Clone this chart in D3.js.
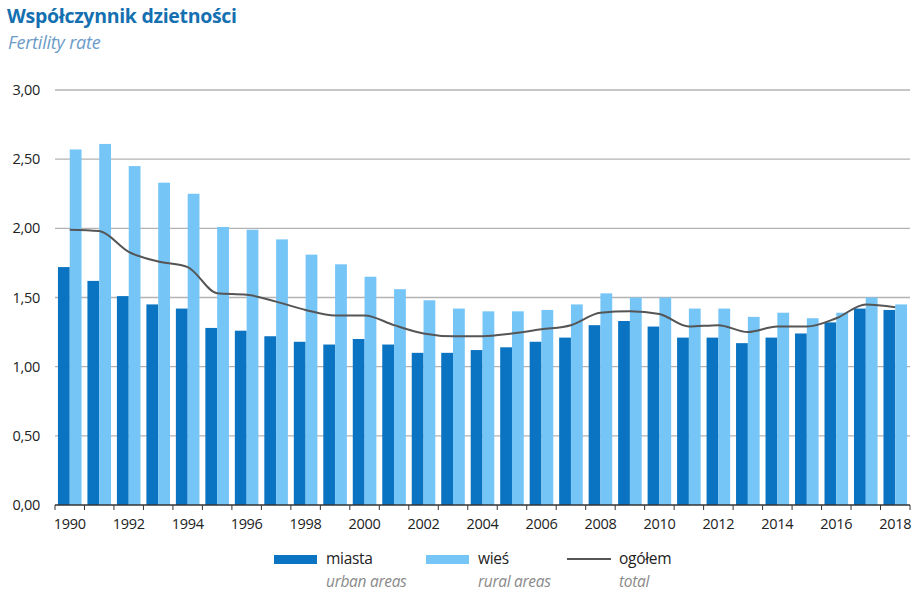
<!DOCTYPE html>
<html lang="pl">
  <head>
    <meta charset="UTF-8" />
    <script src="https://cdn.jsdelivr.net/npm/d3@7/dist/d3.min.js"></script>
    <style>
      body {
        margin: 0;
        background: #ffffff;
        font-family: "Open Sans", "Noto Sans", sans-serif;
      }
      .grid line {
        stroke: #b3b3b3;
        stroke-width: 1.3px;
      }
    </style>
    <title>Współczynnik dzietności</title>
  </head>
  <body>
    <div class="canvas"></div>
    <script>
      const years = d3.range(1990, 2019).map(String);
      const urban = [1.72, 1.62, 1.51, 1.45, 1.42, 1.28, 1.26, 1.22, 1.18, 1.16,
        1.20, 1.16, 1.10, 1.10, 1.12, 1.14, 1.18, 1.21, 1.30, 1.33,
        1.29, 1.21, 1.21, 1.17, 1.21, 1.24, 1.32, 1.42, 1.41];
      const rural = [2.57, 2.61, 2.45, 2.33, 2.25, 2.01, 1.99, 1.92, 1.81, 1.74,
        1.65, 1.56, 1.48, 1.42, 1.40, 1.40, 1.41, 1.45, 1.53, 1.50,
        1.50, 1.42, 1.42, 1.36, 1.39, 1.35, 1.39, 1.50, 1.45];
      const total = [1.99, 1.98, 1.83, 1.76, 1.72, 1.53, 1.52, 1.47, 1.41, 1.37,
        1.37, 1.30, 1.24, 1.22, 1.22, 1.24, 1.27, 1.30, 1.39, 1.40,
        1.38, 1.29, 1.30, 1.25, 1.29, 1.29, 1.35, 1.45, 1.43];
      const yTicks = [0, 0.5, 1, 1.5, 2, 2.5, 3];
      const xLabels = years.filter((d, i) => i % 2 === 0);

      const W = 922, H = 592;
      const margin = { top: 90, right: 12, bottom: 87, left: 55 };

      const svg = d3
        .select(".canvas")
        .append("svg")
        .attr("width", W)
        .attr("height", H);

      const x = d3
        .scaleBand()
        .domain(years)
        .range([margin.left, W - margin.right])
        .paddingInner(0.2)
        .paddingOuter(0.1);
      const x0 = d3
        .scaleBand()
        .domain(years)
        .range([margin.left, W - margin.right]);
      const y = d3.scaleLinear().domain([0, 3]).range([H - margin.bottom, margin.top]);

      // title
      svg.append("text")
        .attr("x", 7).attr("y", 23)
        .attr("fill", "#1470b0")
        .style("font-weight", "bold")
        .style("font-size", "19.5px")
        .style("letter-spacing", "-0.3px")
        .text("Współczynnik dzietności");
      svg.append("text")
        .attr("x", 8).attr("y", 49)
        .attr("fill", "#6b9bc9")
        .style("font-style", "italic")
        .style("font-size", "18px")
        .style("letter-spacing", "-0.2px")
        .text("Fertility rate");

      // grid + y labels
      const grid = svg.append("g").attr("class", "grid");
      grid.selectAll("line")
        .data(yTicks.filter((d) => d > 0))
        .join("line")
        .attr("x1", margin.left)
        .attr("x2", W - margin.right)
        .attr("y1", (d) => y(d))
        .attr("y2", (d) => y(d));

      svg.append("g")
        .selectAll("text")
        .data(yTicks)
        .join("text")
        .attr("x", 40)
        .attr("y", (d) => y(d) + 5)
        .attr("text-anchor", "end")
        .style("font-size", "14.5px")
        .style("letter-spacing", "-0.3px")
        .attr("fill", "#222")
        .text((d) => d3.format(".2f")(d).replace(".", ","));

      // bars
      const inner = d3.scaleBand().domain(["m", "w"]).range([0, x.bandwidth()]);
      const bars = svg.append("g");
      bars.selectAll(".urban")
        .data(years)
        .join("rect")
        .attr("x", (d) => x(d) + inner("m"))
        .attr("width", inner.bandwidth())
        .attr("y", (d, i) => y(urban[i]))
        .attr("height", (d, i) => y(0) - y(urban[i]))
        .attr("fill", "#0a74c2");
      bars.selectAll(".rural")
        .data(years)
        .join("rect")
        .attr("x", (d) => x(d) + inner("w"))
        .attr("width", inner.bandwidth())
        .attr("y", (d, i) => y(rural[i]))
        .attr("height", (d, i) => y(0) - y(rural[i]))
        .attr("fill", "#76c5f7");

      // total line
      const line = d3
        .line()
        .curve(d3.curveMonotoneX)
        .x((d, i) => x(years[i]) + x.bandwidth() / 2)
        .y((d) => y(d));
      svg.append("path")
        .datum(total)
        .attr("d", line)
        .attr("fill", "none")
        .attr("stroke", "#555")
        .attr("stroke-width", 2);

      // x axis
      const xAxis = svg.append("g")
        .attr("transform", `translate(0,${y(0)})`);
      xAxis.append("line")
        .attr("x1", margin.left)
        .attr("x2", W - margin.right)
        .attr("stroke", "#333")
        .attr("stroke-width", 1.3);
      xAxis.selectAll(".tick")
        .data(years.concat(["end"]))
        .join("line")
        .attr("x1", (d) => (d === "end" ? W - margin.right : x0(d)))
        .attr("x2", (d) => (d === "end" ? W - margin.right : x0(d)))
        .attr("y1", 0)
        .attr("y2", 5)
        .attr("stroke", "#333");
      xAxis.selectAll("text")
        .data(xLabels)
        .join("text")
        .attr("x", (d) => x(d) + x.bandwidth() / 2)
        .attr("y", 24)
        .attr("text-anchor", "middle")
        .style("font-size", "14.5px")
        .style("letter-spacing", "-0.3px")
        .attr("fill", "#222")
        .text((d) => d);

      // legend
      const legendItems = [
        { pl: "miasta", en: "urban areas", color: "#0a74c2", type: "rect", x: 274 },
        { pl: "wieś", en: "rural areas", color: "#76c5f7", type: "rect", x: 426 },
        { pl: "ogółem", en: "total", color: "#555", type: "line", x: 567 },
      ];
      const legend = svg.append("g")
        .selectAll("g")
        .data(legendItems)
        .join("g")
        .attr("transform", (d) => `translate(${d.x},0)`);
      legend.filter((d) => d.type === "rect")
        .append("rect")
        .attr("x", 0).attr("y", 555)
        .attr("width", 43).attr("height", 9)
        .attr("fill", (d) => d.color);
      legend.filter((d) => d.type === "line")
        .append("line")
        .attr("x1", 0).attr("x2", 44)
        .attr("y1", 559).attr("y2", 559)
        .attr("stroke", (d) => d.color)
        .attr("stroke-width", 2);
      legend.append("text")
        .attr("x", 52).attr("y", 564)
        .style("font-size", "15.5px")
        .style("letter-spacing", "-0.3px")
        .attr("fill", "#222")
        .text((d) => d.pl);
      legend.append("text")
        .attr("x", 52).attr("y", 587)
        .style("font-size", "15.5px")
        .style("font-style", "italic")
        .style("letter-spacing", "-0.3px")
        .attr("fill", "#8a8a8a")
        .text((d) => d.en);
    </script>
  </body>
</html>
